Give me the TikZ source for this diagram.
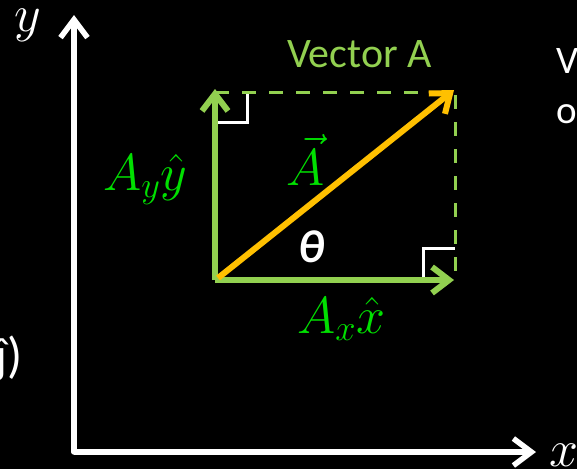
\RequirePackage{fix-cm}
\documentclass[tikz,border=0pt]{standalone}
\usepackage{fontspec}
\newfontfamily\carlito{Carlito}
\usetikzlibrary{arrows.meta}
\definecolor{vgreen}{HTML}{92D050}
\definecolor{lgreen}{HTML}{00E000}
\definecolor{vorange}{HTML}{FFC000}
\tikzset{
  axisarrow/.style={white, line width=5.5pt, -{Straight Barb[length=18pt,width=27pt]}},
  comparrow/.style={vgreen, line width=6pt, -{Straight Barb[length=17pt,width=26pt]}},
  vecarrow/.style={vorange, line width=6pt, -{Straight Barb[length=17pt,width=26pt]}},
  guide/.style={vgreen, line width=3pt, dash pattern=on 14pt off 13pt},
  rightangle/.style={white, line width=3pt},
  mathlbl/.style={text=lgreen, inner sep=0pt, font=\fontsize{52}{60}\selectfont},
  axislbl/.style={text=white, inner sep=0pt, font=\fontsize{52}{60}\selectfont},
  sanslbl/.style={inner sep=0pt, font=\carlito\fontsize{34}{40}\selectfont},
}
\begin{document}
\begin{tikzpicture}[x=1pt,y=-1pt]
  \fill[black] (0,0) rectangle (577,469);
  \useasboundingbox (0,0) rectangle (577,469);

  % axes
  \coordinate (O) at (74,452);
  \coordinate (Ytip) at (74,15);
  \coordinate (Xtip) at (536,452);
  \draw[axisarrow, line cap=round] (O) -- (Ytip);
  \draw[axisarrow] (O) -- (Xtip);
  \node[axislbl, anchor=base west] (ylbl) at (14,31) {$y$};
  \node[axislbl, anchor=base west] (xlbl) at (549,466) {$x$};

  % rectangle corners
  \coordinate (P) at (215,280);
  \coordinate (TL) at (215,92);
  \coordinate (TR) at (455,92);
  \coordinate (BR) at (455,280);
  \coordinate (Vtip) at (215,89);
  \coordinate (Htip) at (454,280);
  \coordinate (Atail) at (218,278);
  \coordinate (Atip) at (454,90);

  % right angle marks
  \coordinate (m1a) at (215,122);
  \coordinate (m1b) at (247,122);
  \coordinate (m1c) at (247,92);
  \coordinate (m2a) at (423,280);
  \coordinate (m2b) at (423,248);
  \coordinate (m2c) at (455,248);
  \draw[rightangle] (m1a) -- (m1b) -- (m1c);
  \draw[rightangle] (m2a) -- (m2b) -- (m2c);

  \draw[guide] (TL) -- (TR) -- (BR);
  \draw[comparrow] (P) -- (Vtip);
  \draw[comparrow] (P) -- (Htip);
  \draw[vecarrow] (Atail) -- (Atip);

  % labels
  \node[mathlbl, anchor=base west] (Albl) at (286,185) {$\vec{A}$};
  \node[mathlbl, anchor=base west] (Aylbl) at (103,190) {$A_y\hat{y}$};
  \node[mathlbl, anchor=base west] (Axlbl) at (297,333) {$A_x\hat{x}$};
  \node[sanslbl, text=white, anchor=base west, font=\carlito\bfseries\itshape\fontsize{46}{50}\selectfont] (theta) at (298,262) {θ};
  \node[sanslbl, text=vgreen, anchor=base west, font=\carlito\fontsize{42}{48}\selectfont] (title) at (287,67) {Vector A};
  \node[sanslbl, text=white, anchor=base west, font=\carlito\fontsize{39}{44}\selectfont] (Vcut) at (556,73) {V};
  \node[sanslbl, text=white, anchor=base west, font=\carlito\fontsize{39}{44}\selectfont] (ocut) at (556,123) {o};
  \node[sanslbl, text=white, anchor=base east, font=\carlito\fontsize{50}{56}\selectfont] (jcut) at (23,372) {ĵ)};
\end{tikzpicture}
\end{document}
